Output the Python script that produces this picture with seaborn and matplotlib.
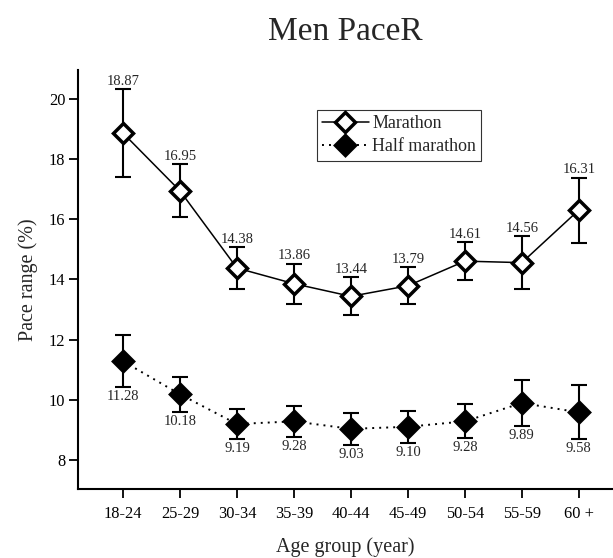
import matplotlib
matplotlib.use("Agg")
import matplotlib.pyplot as plt
import seaborn as sns
import pandas as pd
import numpy as np

age_groups = ["18-24", "25-29", "30-34", "35-39", "40-44", "45-49", "50-54", "55-59", "60 +"]
marathon = [18.87, 16.95, 14.38, 13.86, 13.44, 13.79, 14.61, 14.56, 16.31]
marathon_err = [1.47, 0.88, 0.69, 0.67, 0.63, 0.62, 0.63, 0.88, 1.08]
half = [11.28, 10.18, 9.19, 9.28, 9.03, 9.10, 9.28, 9.89, 9.58]
half_err = [0.86, 0.58, 0.50, 0.52, 0.54, 0.54, 0.57, 0.78, 0.90]
marathon_labels = ["18.87", "16.95", "14.38", "13.86", "13.44", "13.79", "14.61", "14.56", "16.31"]
half_labels = ["11.28", "10.18", "9.19", "9.28", "9.03", "9.10", "9.28", "9.89", "9.58"]

sns.set_style("ticks")
plt.rcParams["font.family"] = ["Liberation Serif", "DejaVu Serif"]

fig = plt.figure(figsize=(6.13, 5.58), dpi=100)
ax = fig.add_axes([0.1272, 0.1237, 0.8728, 0.7509])

df = pd.DataFrame({
    "pos": list(range(len(age_groups))) * 2,
    "value": marathon + half,
    "series": ["Marathon"] * len(age_groups) + ["Half marathon"] * len(age_groups),
})
x = np.arange(len(age_groups))

sns.lineplot(data=df[df.series == "Marathon"], x="pos", y="value", ax=ax,
             color="black", linewidth=1.1, marker="D", markersize=10.5,
             markerfacecolor="white", markeredgecolor="black", markeredgewidth=2.5,
             label="Marathon", zorder=3)
sns.lineplot(data=df[df.series == "Half marathon"], x="pos", y="value", ax=ax,
             color="black", linewidth=1.4, dashes=(1, 2.6), marker="D", markersize=10.5,
             markerfacecolor="black", markeredgecolor="black", markeredgewidth=2.5,
             label="Half marathon", zorder=3)

ax.errorbar(x, marathon, yerr=marathon_err, fmt="none", ecolor="black",
            elinewidth=1.5, capsize=6, capthick=1.5, zorder=2)
ax.errorbar(x, half, yerr=half_err, fmt="none", ecolor="black",
            elinewidth=1.5, capsize=6, capthick=1.5, zorder=2)

for i in range(len(age_groups)):
    ax.text(x[i], marathon[i] + marathon_err[i] + 0.04, marathon_labels[i],
            ha="center", va="bottom", fontsize=10.5)
    ax.text(x[i], half[i] - half_err[i] - 0.1, half_labels[i],
            ha="center", va="top", fontsize=10.5)

ax.set_xlim(-0.79, 8.6)
ax.set_ylim(7.03, 20.97)
ax.set_xticks(x)
ax.set_xticklabels(age_groups)
ax.set_yticks([8, 10, 12, 14, 16, 18, 20])
ax.tick_params(axis="both", labelsize=11.8, length=6.5, width=1.3, colors="black",
               direction="out", pad=2.5)
ax.tick_params(axis="x", pad=5.5)
ax.set_xlabel("Age group (year)", fontsize=14.5, labelpad=11)
ax.set_ylabel("Pace range (%)", fontsize=14.5, labelpad=8)
for s in ["top", "right"]:
    ax.spines[s].set_visible(False)
for s in ["left", "bottom"]:
    ax.spines[s].set_linewidth(1.5)
    ax.spines[s].set_color("black")

leg = ax.legend(loc="upper left", bbox_to_anchor=(0.446, 0.905), frameon=True,
                fancybox=False, edgecolor="black", fontsize=12.9, borderaxespad=0,
                handlelength=2.6, handletextpad=0.2, borderpad=0.3, labelspacing=0.35,
                markerscale=1.0)
leg.get_frame().set_linewidth(0.8)

fig.text(0.563, 0.943, "Men PaceR", ha="center", va="center", fontsize=24)

fig.savefig("out.png", dpi=100)
